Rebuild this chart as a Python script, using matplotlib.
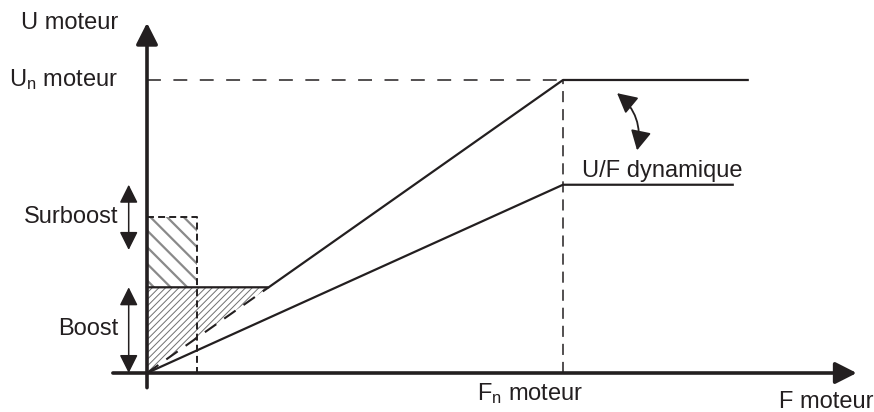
import matplotlib
matplotlib.use("Agg")
import matplotlib.pyplot as plt
from matplotlib.patches import Polygon

plt.rcParams['font.family'] = ['Liberation Sans', 'DejaVu Sans']
plt.rcParams['mathtext.default'] = 'regular'
plt.rcParams['lines.scale_dashes'] = False

# schematic values (Hz / V)
f_n = 50.0          # nominal motor frequency
u_n = 400.0         # nominal motor voltage
u_dyn = 257.0       # reduced voltage with dynamic U/F
u_boost = 117.0     # boost level
u_surboost = 213.0  # surboost level
f_surboost = 6.0    # width of the surboost zone
f_end_n = 72.2      # end of the nominal plateau
f_end_dyn = 70.4    # end of the dynamic plateau
f_axis_max = 85.3
u_axis_max = 478.0

f_boost = u_boost / u_n * f_n   # where the boost meets the U/F line

ink = '#231f20'
hatch_col = '#8a8a8a'

fig = plt.figure(figsize=(8.74, 4.12), dpi=100)
ax = fig.add_axes([0, 0, 1, 1])
ax.set_xlim(-17.668, 87.38)
ax.set_ylim(-53.24, 509.2)
ax.axis('off')

# hatched zones
plt.rcParams['hatch.linewidth'] = 0.7
ax.add_patch(Polygon([(0, 0), (0, u_boost), (f_boost, u_boost)], closed=True,
                     fill=False, hatch='/////', edgecolor='#707070', lw=0))
plt.rcParams['hatch.linewidth'] = 1.6
ax.add_patch(Polygon([(0, u_boost), (0, u_surboost), (f_surboost, u_surboost),
                      (f_surboost, u_boost)], closed=True,
                     fill=False, hatch='\\\\', edgecolor=hatch_col, lw=0))

# U/F curves
ax.plot([0, f_boost], [0, u_boost], color=ink, lw=1.5, ls=(0, (10, 7)))
ax.plot([0, f_boost, f_n, f_end_n], [u_boost, u_boost, u_n, u_n], color=ink, lw=1.6)
ax.plot([0, f_n, f_end_dyn], [0, u_dyn, u_dyn], color=ink, lw=1.6)

# dashed guides
ax.plot([0, f_n], [u_n, u_n], color=ink, lw=1.1, ls=(0, (10, 9)))
ax.plot([f_n, f_n], [0, u_n], color=ink, lw=1.1, ls=(0, (8, 5)))
ax.plot([0, f_surboost, f_surboost], [u_surboost, u_surboost, 0],
        color=ink, lw=1.4, ls=(0, (5, 3)))

# axes arrows
axis_arrow = dict(arrowstyle='-|>,head_length=0.65,head_width=0.33', lw=2.6,
                  color=ink, mutation_scale=20, shrinkA=0, shrinkB=0)
ax.annotate('', xy=(f_axis_max, 0), xytext=(-4.1, 0), arrowprops=axis_arrow)
ax.annotate('', xy=(0, u_axis_max), xytext=(0, -20), arrowprops=axis_arrow)

# double arrows for boost / surboost
dbl = dict(arrowstyle='<|-|>,head_length=0.8,head_width=0.4', lw=1.1,
           color=ink, mutation_scale=14, shrinkA=0, shrinkB=0)
x_dbl = -2.2
ax.annotate('', xy=(x_dbl, 0), xytext=(x_dbl, u_boost), arrowprops=dbl)
ax.annotate('', xy=(x_dbl, u_surboost - 45), xytext=(x_dbl, u_surboost + 44),
            arrowprops=dbl)

# curved arrow for dynamic U/F
ax.annotate('', xy=(58.9, 304), xytext=(56.5, 382),
            arrowprops=dict(arrowstyle='<|-|>,head_length=0.8,head_width=0.42',
                            lw=1.3, color=ink, mutation_scale=15,
                            shrinkA=0, shrinkB=0,
                            connectionstyle='arc3,rad=-0.3'))

# texts
fs = 17
ax.text(-3.5, u_axis_max, 'U moteur', ha='right', va='center', fontsize=fs, color=ink)
ax.text(-3.5, u_n, r'U$_{n}$ moteur', ha='right', va='center', fontsize=fs, color=ink)
ax.text(-3.4, u_surboost, 'Surboost', ha='right', va='center', fontsize=fs, color=ink)
ax.text(-3.4, u_boost / 2 + 1, 'Boost', ha='right', va='center', fontsize=fs, color=ink)
ax.text(52.3, 276, 'U/F dynamique', ha='left', va='center', fontsize=fs, color=ink)
ax.text(f_n - 10.3, -11, r'F$_{n}$ moteur', ha='left', va='top', fontsize=fs, color=ink)
ax.text(87.3, -25, 'F moteur', ha='right', va='top', fontsize=fs, color=ink)

fig.savefig('out.png', dpi=100)
